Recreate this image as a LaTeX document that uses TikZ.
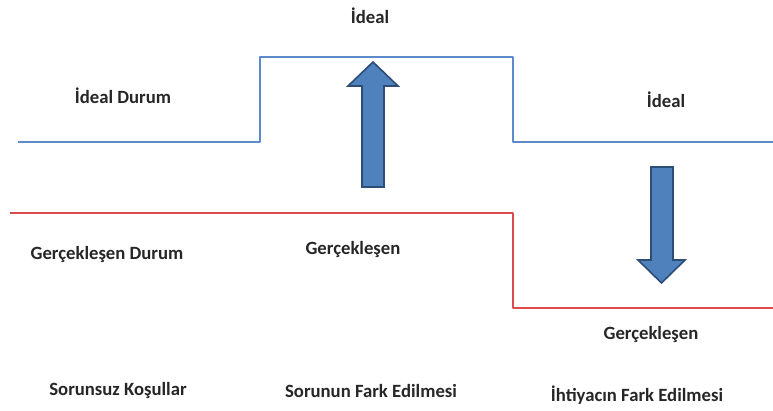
\documentclass[tikz,border=0pt]{standalone}
\usepackage{fontspec}
\setmainfont{Carlito}
\usetikzlibrary{calc, positioning}
\definecolor{idealblue}{HTML}{5B8BCB}
\definecolor{realred}{HTML}{DC4B4B}
\definecolor{arrowfill}{HTML}{4F81BD}
\definecolor{arrowedge}{HTML}{2C4D75}
\tikzset{>=stealth,
  idealline/.style={draw=idealblue, line width=2.4pt, line join=round},
  realline/.style={draw=realred, line width=2.4pt, line join=round},
  blockarrow/.style={fill=arrowfill, draw=arrowedge, line width=1.6pt, line join=miter},
  lbl/.style={font=\fontsize{18.7}{22}\selectfont\bfseries, text=black!85, inner sep=0pt}}

\begin{document}
\begin{tikzpicture}[x=1pt, y=-1pt]
          \useasboundingbox (0, 0) rectangle (773, 410);
          % ideal line
          \coordinate (i0) at (18, 142);
          \coordinate (i1) at (260, 142);
          \coordinate (i2) at (260, 57);
          \coordinate (i3) at (513, 57);
          \coordinate (i4) at (513, 142);
          \coordinate (i5) at (773, 142);
          \draw[idealline] (i0) -- (i1) -- (i2) -- (i3) -- (i4) -- (i5);
          % realised line
          \coordinate (r0) at (10, 213);
          \coordinate (r1) at (513, 213);
          \coordinate (r2) at (513, 308);
          \coordinate (r3) at (773, 308);
          \draw[realline] (r0) -- (r1) -- (r2) -- (r3);
          % block arrows
          \draw[blockarrow] (362, 187) -- (362, 86) -- (348, 86) -- (373, 62)
            -- (398, 86) -- (384, 86) -- (384, 187) -- cycle;
          \draw[blockarrow] (651, 167) -- (651, 260) -- (638, 260) -- (661.5, 283)
            -- (685, 260) -- (673, 260) -- (673, 167) -- cycle;
          % labels
          \node[lbl] (idealtop) at (370, 16) {İdeal};
          \node[lbl] (idealdurum) at (123, 96) {İdeal Durum};
          \node[lbl] (idealright) at (666, 100) {İdeal};
          \node[lbl] (realdurum) at (107, 255) {Gerçekleşen Durum};
          \node[lbl] (realmid) at (353, 250) {Gerçekleşen};
          \node[lbl] (realright) at (651, 335) {Gerçekleşen};
          \node[lbl] (sorunsuz) at (118, 391) {Sorunsuz Koşullar};
          \node[lbl] (farkedilme) at (371, 391) {Sorunun Fark Edilmesi};
          \node[lbl] (ihtiyac) at (637, 395) {İhtiyacın Fark Edilmesi};
        \end{tikzpicture}
\end{document}
